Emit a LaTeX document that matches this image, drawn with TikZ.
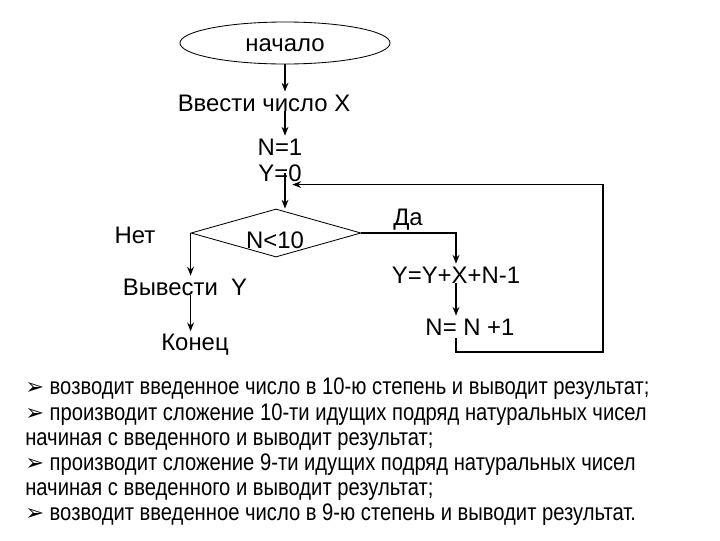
\documentclass[tikz,border=0pt]{standalone}
\usepackage{fontspec}
\setmainfont{Liberation Sans}
\newfontfamily\narrowfont[FakeStretch=0.845]{Liberation Sans}
\newfontfamily\symfont{DejaVu Sans}
\usepackage{xcolor}
\usetikzlibrary{arrows.meta,shapes.geometric,calc}
\definecolor{Paper}{HTML}{FFFFFF}
\definecolor{Ink}{HTML}{000000}
\newcommand{\bul}{{\symfont\fontsize{16}{17.8}\selectfont ➢}\ }

\begin{document}
\begin{tikzpicture}[x=0.025cm,y=-0.025cm,font=\fontsize{17}{20}\selectfont,text=Ink,txt/.style={inner sep=2pt},outline/.style={draw=Ink,line width=0.6pt,inner sep=0pt},arrow/.style={-{Stealth[length=2.2mm,width=1.7mm]},line width=1pt,draw=Ink},tasktext/.style={font=\narrowfont\fontsize{17}{17.9}\selectfont,align=left,inner sep=0pt}]
\fill[Paper] (0,0) rectangle (720,540);
\node[outline,ellipse,minimum width=5.25cm,minimum height=1.05cm] (start) at (285,43){};
\node[txt] (starttext) at (285,45){начало};
\node[txt] (vvod) at (264,103){Ввести число X};
\node[txt] (initN) at (280,147){N=1};\node[txt] (initY) at (280,173){Y=0};
\node[outline,diamond,minimum width=4.25cm,minimum height=1.2cm] (cond) at (276,233){};
\node[txt] (condtext) at (275,240){N<10};
\node[txt] (no) at (135,235){Нет};\node[txt] (yes) at (408,220){Да};
\node[txt] (out) at (185,287){Вывести\ \ Y};
\node[txt] (stop) at (195,345){Конец};
\node[txt] (body) at (456,275){Y=Y+X+N-1};
\node[txt] (incr) at (470,327){N= N +1};
\coordinate (back) at (603,352);
\draw[arrow] (start.south) -- (start.south |- vvod.north);
\draw[arrow] (vvod.base -| start.south) -- (start.south |- initN.north);
\draw[arrow] (initY.center -| start.south) -- (start.south |- cond.north);
\draw[arrow] (cond.west) -- (cond.west |- out.north);
\draw[arrow] (out.base -| cond.west) -- (cond.west |- stop.north);
\draw[arrow] (cond.east) -| (body.north);
\draw[arrow] (body.base) -- (body.base |- incr.north);
\draw[arrow] (incr.south -| body.base) |- (back) |- ($(initY.south)!0.5!(initY.south east)$);
\node[tasktext,anchor=north west] (tasks) at (25,378){\bul возводит введенное число в 10-ю степень и выводит результат;\\\bul производит сложение 10-ти идущих подряд натуральных чисел\\начиная с введенного и выводит результат;\\\bul производит сложение 9-ти идущих подряд натуральных чисел\\начиная с введенного и выводит результат;\\\bul возводит введенное число в 9-ю степень и выводит результат.};
\end{tikzpicture}
\end{document}
